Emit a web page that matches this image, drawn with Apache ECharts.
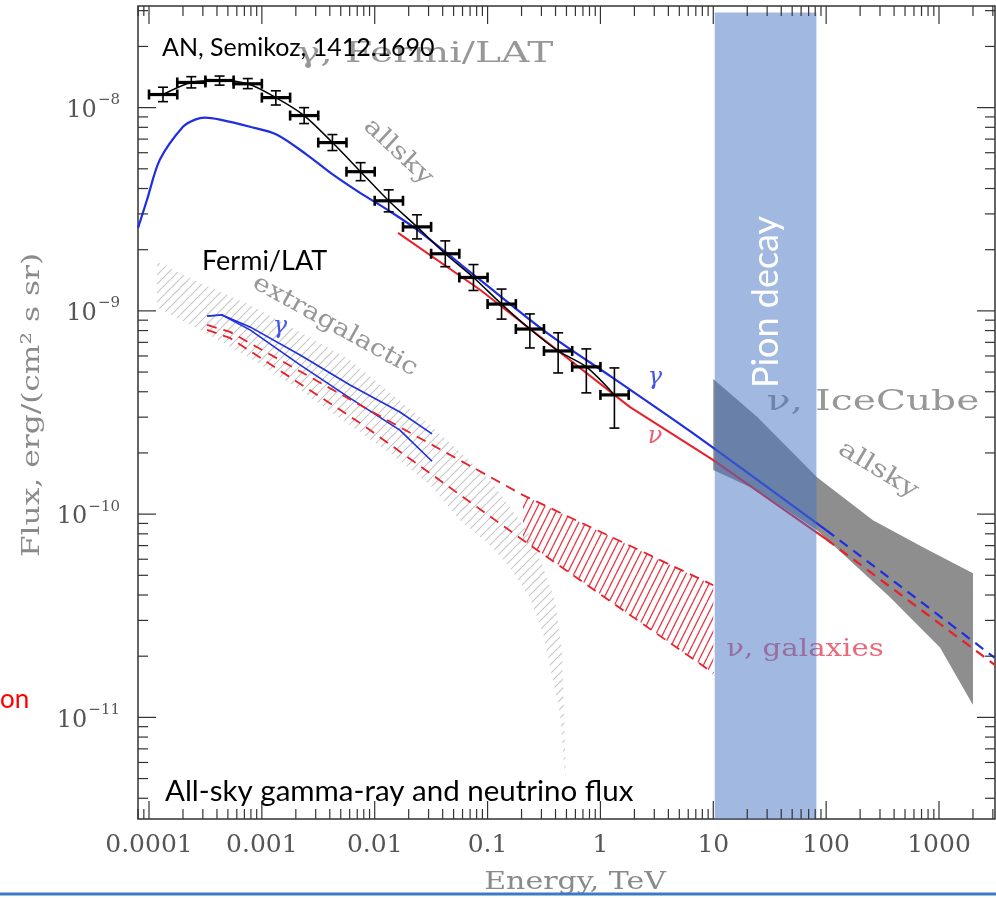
<!DOCTYPE html>
<html>
<head>
<meta charset="utf-8">
<script src="https://cdn.jsdelivr.net/npm/echarts@6/dist/echarts.min.js"></script>
<style>
  html, body { margin: 0; padding: 0; background: #ffffff; }
  #chart { width: 996px; height: 898px; }
</style>
</head>
<body>
<div id="chart"></div>
<script>
// ---------------- data (energy in TeV, flux in erg/(cm^2 s sr)) ----------------

// Fermi/LAT all-sky diffuse gamma-ray points
const fermiEnergy = [1.33e-4, 2.37e-4, 4.22e-4, 7.50e-4, 1.33e-3, 2.37e-3, 4.22e-3, 7.50e-3,
                     1.33e-2, 2.37e-2, 4.22e-2, 7.50e-2, 0.133, 0.237, 0.422, 0.750, 1.33];
const fermiBinEdges = [1.0e-4, 1.78e-4, 3.16e-4, 5.62e-4, 1.0e-3, 1.78e-3, 3.16e-3, 5.62e-3, 1.0e-2,
                       1.78e-2, 3.16e-2, 5.62e-2, 0.1, 0.178, 0.316, 0.562, 1.0, 1.78];
const fermiFlux = [1.16e-8, 1.33e-8, 1.36e-8, 1.31e-8, 1.12e-8, 9.14e-9, 6.73e-9, 4.84e-9,
                   3.48e-9, 2.59e-9, 1.91e-9, 1.46e-9, 1.08e-9, 8.14e-10, 6.35e-10, 5.30e-10, 3.86e-10];
const fermiFluxLow = [1.07e-8, 1.25e-8, 1.29e-8, 1.24e-8, 1.03e-8, 8.35e-9, 6.15e-9, 4.37e-9,
                      3.07e-9, 2.26e-9, 1.65e-9, 1.26e-9, 9.11e-10, 6.57e-10, 4.95e-10, 3.95e-10, 2.65e-10];
const fermiFluxHigh = [1.26e-8, 1.42e-8, 1.43e-8, 1.39e-8, 1.21e-8, 1.00e-8, 7.37e-9, 5.36e-9,
                       3.94e-9, 2.97e-9, 2.21e-9, 1.69e-9, 1.28e-9, 9.66e-10, 7.80e-10, 6.50e-10, 5.24e-10];

// all-sky model: gamma rays (solid up to 100 TeV, dashed beyond)
const gammaAllskyE = [8.0e-5, 8.32e-5, 9.6e-5, 1.25e-4, 2.0e-4, 2.56e-4, 3.13e-4, 4.26e-4, 7.85e-4,
                      1.36e-3, 2.51e-3, 4.27e-3, 7.41e-3, 1.29e-2, 2.37e-2, 8.58e-2, 0.336, 1.29, 6.22, 100];
const gammaAllskyF = [2.56e-9, 2.74e-9, 3.52e-9, 5.55e-9, 8.05e-9, 8.73e-9, 8.93e-9, 8.73e-9, 8.05e-9,
                      7.36e-9, 5.86e-9, 4.68e-9, 3.81e-9, 3.15e-9, 2.51e-9, 1.42e-9, 7.80e-10, 4.68e-10, 2.56e-10, 8.34e-11];
const gammaAllskyExtE = [100, 3100];
const gammaAllskyExtF = [8.34e-11, 1.97e-11];

// all-sky model: neutrinos
const nuAllskyE = [1.61e-2, 8.58e-2, 1.83, 9.93, 100];
const nuAllskyF = [2.42e-9, 1.27e-9, 3.36e-10, 1.85e-10, 7.53e-11];
const nuAllskyExtE = [100, 3100];
const nuAllskyExtF = [7.53e-11, 1.82e-11];

// extragalactic gamma-ray model envelope (two curves)
const egGammaE = [3.27e-4, 4.44e-4, 7.85e-4, 2.18e-3, 6.04e-3, 1.67e-2, 3.22e-2];
const egGammaHigh = [9.44e-10, 9.55e-10, 8.34e-10, 6.07e-10, 4.32e-10, 3.18e-10, 2.48e-10];
const egGammaLow = [9.44e-10, 9.55e-10, 8.06e-10, 5.42e-10, 3.72e-10, 2.59e-10, 1.82e-10];

// neutrinos from galaxies (dashed envelope)
const galNuE = [3.27e-4, 5.22e-4, 7.41e-3, 0.206, 10];
const galNuHigh = [8.53e-10, 7.88e-10, 3.44e-10, 1.24e-10, 4.47e-11];
const galNuLow = [8.06e-10, 7.36e-10, 2.81e-10, 7.45e-11, 1.65e-11];
// hatched part of the galaxy neutrino band
const galBandE = [0.206, 10];
const galBandHigh = [1.24e-10, 4.47e-11];
const galBandLow = [7.45e-11, 1.65e-11];

// Fermi/LAT extragalactic background band
const igrbUpperE = [1.18e-4, 2.83e-4, 7.85e-4, 2.18e-3, 6.04e-3, 1.45e-2, 3.09e-2, 5.70e-2,
                    0.105, 0.158, 0.238, 0.310, 0.396, 0.456, 0.495];
const igrbUpperF = [1.74e-9, 1.37e-9, 1.07e-9, 7.88e-10, 5.74e-10, 3.86e-10, 2.74e-10, 2.02e-10,
                    1.47e-10, 1.08e-10, 7.88e-11, 5.48e-11, 3.77e-11, 2.14e-11, 5.18e-12];
const igrbLowerE = [1.18e-4, 2.83e-4, 7.85e-4, 2.18e-3, 6.04e-3, 1.45e-2, 3.09e-2, 5.70e-2,
                    0.105, 0.158, 0.238, 0.310, 0.380, 0.438, 0.485];
const igrbLowerF = [1.04e-9, 8.06e-10, 5.86e-10, 4.08e-10, 2.74e-10, 1.95e-10, 1.39e-10, 9.33e-11,
                    7.03e-11, 5.48e-11, 3.86e-11, 2.59e-11, 1.52e-11, 1.05e-11, 5.18e-12];

// IceCube all-sky neutrino band
const iceUpperE = [10, 24.4, 83, 260, 721, 2000];
const iceUpperF = [4.62e-10, 3.01e-10, 1.52e-10, 9.33e-11, 6.87e-11, 5.12e-11];
const iceLowerE = [10, 24.4, 83, 368, 1021, 2000];
const iceLowerF = [1.65e-10, 1.31e-10, 8.34e-11, 3.90e-11, 2.21e-11, 1.15e-11];

// pion decay energy window
const pionRangeE = [10.3, 82];
const pionTopF = 2.94e-8;

// tick labels
const xTickLabels = ['0.0001', '0.001', '0.01', '0.1', '1', '10', '100', '1000']; // 10^-4 .. 10^3
const yTickExponents = ['\u221211', '\u221210', '\u22129', '\u22128'];            // 10^-11 .. 10^-8

// ---------------- chart ----------------
const X_MIN = Math.pow(10, -4.0975), X_MAX = Math.pow(10, 3.4962);
const Y_MIN = Math.pow(10, -11.5), Y_MAX = Math.pow(10, -7.5);
const SERIF = 'DejaVu Serif';
const SANS = 'Lato';

function pairs(xs, ys) { return xs.map((x, i) => [x, ys[i]]); }

function hatchPattern(color, w, h, lw, flip) {
  const c = document.createElement('canvas');
  c.width = w; c.height = h;
  const g = c.getContext('2d');
  g.strokeStyle = color; g.lineWidth = lw;
  g.beginPath();
  for (const dx of [-w, 0, w]) {
    if (flip) { g.moveTo(dx, 0); g.lineTo(dx + w, h); }
    else { g.moveTo(dx, h); g.lineTo(dx + w, 0); }
  }
  g.stroke();
  return { image: c, repeat: 'repeat' };
}

function bandSeries(upE, upF, loE, loF, fill, z) {
  return {
    type: 'custom', z: z, silent: true, clip: true,
    data: [[upE[0], upF[0]]],
    renderItem: (params, api) => {
      const pts = [];
      for (let i = 0; i < upE.length; i++) pts.push(api.coord([upE[i], upF[i]]));
      for (let i = loE.length - 1; i >= 0; i--) pts.push(api.coord([loE[i], loF[i]]));
      return { type: 'polygon', shape: { points: pts }, style: { fill: fill, stroke: null } };
    }
  };
}

function lineSeries(xs, ys, color, width, dashed, z, smooth) {
  return {
    type: 'line', z: z || 2, silent: true, showSymbol: false, smooth: smooth || false,
    data: pairs(xs, ys),
    lineStyle: { color: color, width: width, type: dashed ? [10, 7] : 'solid' },
    clip: true
  };
}

// frame ticks (inside, on all four sides)
const xTicks = [], yTicks = [];
for (let d = -5; d <= 3; d++) for (let m = 1; m <= 9; m++) {
  const v = m * Math.pow(10, d);
  if (v > X_MIN && v < X_MAX) xTicks.push([v, 1e-10, m === 1 ? 1 : 0]);
}
for (let d = -12; d <= -8; d++) for (let m = 1; m <= 9; m++) {
  const v = m * Math.pow(10, d);
  if (v > Y_MIN && v < Y_MAX) yTicks.push([1e-2, v, m === 1 ? 1 : 0]);
}
const TICK = '#333';

const chart = echarts.init(document.getElementById('chart'), null, { renderer: 'canvas' });

const BLUE = '#1f2fe0', RED = '#e8202a';

const option = {
  backgroundColor: '#ffffff',
  animation: false,
  grid: { left: 138, top: 6, width: 857, height: 813, show: true, borderColor: '#333', borderWidth: 1.5,
          backgroundColor: 'transparent', outerBoundsMode: 'none', containLabel: false },
  xAxis: {
    type: 'log', min: X_MIN, max: X_MAX,
    axisLine: { show: false }, axisTick: { show: false }, splitLine: { show: false },
    axisLabel: {
      margin: 14, color: '#555', fontFamily: SERIF, fontSize: 25,
      formatter: (v) => {
        const l = Math.log10(v), r = Math.round(l);
        if (Math.abs(l - r) > 1e-3) return '';
        return xTickLabels[r + 4] || '';
      }
    }
  },
  yAxis: {
    type: 'log', min: Y_MIN, max: Y_MAX,
    axisLine: { show: false }, axisTick: { show: false }, splitLine: { show: false },
    axisLabel: {
      margin: 18, color: '#555',
      formatter: (v) => {
        const l = Math.log10(v), r = Math.round(l);
        if (Math.abs(l - r) > 1e-3) return '';
        const e = yTickExponents[r + 11];
        return e ? '{b|10}{s|' + e + '}' : '';
      },
      rich: {
        b: { fontFamily: SERIF, fontSize: 24, color: '#555', lineHeight: 30, verticalAlign: 'bottom' },
        s: { fontFamily: SERIF, fontSize: 15, color: '#555', lineHeight: 30, verticalAlign: 'top', padding: [0, 0, 0, 1] }
      }
    }
  },
  series: [
    // bands
    bandSeries(igrbUpperE, igrbUpperF, igrbLowerE, igrbLowerF, hatchPattern('#c6c6c6', 9, 9, 1.1, false), 1),
    bandSeries(galBandE, galBandHigh, galBandE, galBandLow, hatchPattern('#ea3a48', 7, 14, 1.3, false), 1),
    bandSeries(iceUpperE, iceUpperF, iceLowerE, iceLowerF, '#8e8e8e', 1),

    // extragalactic curves
    lineSeries(egGammaE, egGammaHigh, BLUE, 1.6, false, 2),
    lineSeries(egGammaE, egGammaLow, BLUE, 1.6, false, 2),
    lineSeries(galNuE, galNuHigh, RED, 1.8, true, 2),
    lineSeries(galNuE, galNuLow, RED, 1.8, true, 2),

    // all-sky curves
    lineSeries(nuAllskyE, nuAllskyF, RED, 2, false, 2),
    lineSeries(nuAllskyExtE, nuAllskyExtF, RED, 2.2, true, 2),
    lineSeries(gammaAllskyE, gammaAllskyF, BLUE, 2.2, false, 2, 0.3),
    lineSeries(gammaAllskyExtE, gammaAllskyExtF, BLUE, 2.2, true, 2),
    lineSeries(fermiEnergy, fermiFlux, '#000000', 1.5, false, 3, 0.3),

    // Fermi/LAT points with error bars
    {
      type: 'custom', z: 4, silent: true,
      data: fermiEnergy.map((e, i) => [e, fermiFlux[i], fermiBinEdges[i], fermiBinEdges[i + 1],
                                       fermiFluxLow[i], fermiFluxHigh[i]]),
      encode: { x: 0, y: 1 },
      renderItem: (params, api) => {
        const c = api.coord([api.value(0), api.value(1)]);
        const l = api.coord([api.value(2), api.value(1)]);
        const r = api.coord([api.value(3), api.value(1)]);
        const lo = api.coord([api.value(0), api.value(4)]);
        const hi = api.coord([api.value(0), api.value(5)]);
        const s = (w) => ({ stroke: '#000', lineWidth: w });
        return {
          type: 'group',
          children: [
            { type: 'line', shape: { x1: l[0], y1: c[1], x2: r[0], y2: c[1] }, style: s(3.2) },
            { type: 'line', shape: { x1: l[0], y1: c[1] - 5, x2: l[0], y2: c[1] + 5 }, style: s(2.6) },
            { type: 'line', shape: { x1: r[0], y1: c[1] - 5, x2: r[0], y2: c[1] + 5 }, style: s(2.6) },
            { type: 'line', shape: { x1: c[0], y1: lo[1], x2: c[0], y2: hi[1] }, style: s(1.6) },
            { type: 'line', shape: { x1: c[0] - 5, y1: lo[1], x2: c[0] + 5, y2: lo[1] }, style: s(1.6) },
            { type: 'line', shape: { x1: c[0] - 5, y1: hi[1], x2: c[0] + 5, y2: hi[1] }, style: s(1.6) }
          ]
        };
      }
    },

    // pion decay window (translucent, over everything)
    {
      type: 'custom', z: 8, silent: true,
      data: [[pionRangeE[0], pionTopF, pionRangeE[1]]],
      encode: { x: 0, y: 1 },
      renderItem: (params, api) => {
        const a = api.coord([api.value(0), api.value(1)]);
        const b = api.coord([api.value(2), api.value(1)]);
        const cs = params.coordSys;
        return { type: 'rect', shape: { x: a[0], y: a[1], width: b[0] - a[0], height: cs.y + cs.height - a[1] },
                 style: { fill: 'rgba(68,114,196,0.5)' } };
      }
    },

    // frame ticks
    {
      type: 'custom', z: 9, silent: true, data: xTicks, encode: { x: 0, y: 1 },
      renderItem: (params, api) => {
        const p = api.coord([api.value(0), api.value(1)]);
        const cs = params.coordSys;
        const len = api.value(2) ? 18 : 10;
        const b = cs.y + cs.height;
        return { type: 'group', children: [
          { type: 'line', shape: { x1: p[0], y1: b, x2: p[0], y2: b - len }, style: { stroke: TICK, lineWidth: 1.2 } },
          { type: 'line', shape: { x1: p[0], y1: cs.y, x2: p[0], y2: cs.y + len }, style: { stroke: TICK, lineWidth: 1.2 } }
        ] };
      }
    },
    {
      type: 'custom', z: 9, silent: true, data: yTicks, encode: { x: 0, y: 1 },
      renderItem: (params, api) => {
        const p = api.coord([api.value(0), api.value(1)]);
        const cs = params.coordSys;
        const len = api.value(2) ? 18 : 10;
        const r = cs.x + cs.width;
        return { type: 'group', children: [
          { type: 'line', shape: { x1: cs.x, y1: p[1], x2: cs.x + len, y2: p[1] }, style: { stroke: TICK, lineWidth: 1.2 } },
          { type: 'line', shape: { x1: r, y1: p[1], x2: r - len, y2: p[1] }, style: { stroke: TICK, lineWidth: 1.2 } }
        ] };
      }
    }
  ],
  graphic: [
    // axis titles
    { type: 'text', x: 32, y: 405, rotation: Math.PI / 2, scaleX: 1.25, z: 5,
      style: { text: 'Flux, erg/(cm\u00b2 s sr)', fontFamily: SERIF, fontSize: 25, fill: '#8a8a8a', align: 'center', verticalAlign: 'middle' } },
    { type: 'text', x: 575, y: 882, scaleX: 1.2, z: 5,
      style: { text: 'Energy, TeV', fontFamily: SERIF, fontSize: 25, fill: '#8a8a8a', align: 'center', verticalAlign: 'middle' } },

    // curve annotations
    { type: 'text', x: 425, y: 55, scaleX: 1.4, z: 5,
      style: { text: '\u03b3, Fermi/LAT', fontFamily: SERIF, fontSize: 28, fill: '#979797', align: 'center', verticalAlign: 'middle' } },
    { type: 'text', x: 398, y: 152, rotation: -43 * Math.PI / 180, scaleX: 1.22, z: 5,
      style: { text: 'allsky', fontFamily: SERIF, fontSize: 24, fill: '#979797', align: 'center', verticalAlign: 'middle' } },
    { type: 'text', x: 335, y: 326, rotation: -29 * Math.PI / 180, scaleX: 1.16, z: 5,
      style: { text: 'extragalactic', fontFamily: SERIF, fontSize: 24, fill: '#979797', align: 'center', verticalAlign: 'middle' } },
    { type: 'text', x: 280, y: 327, z: 5,
      style: { text: '\u03b3', fontFamily: SERIF, fontStyle: 'italic', fontSize: 24, fill: '#4355e6', align: 'center', verticalAlign: 'middle' } },
    { type: 'text', x: 655, y: 378, z: 5,
      style: { text: '\u03b3', fontFamily: SERIF, fontStyle: 'italic', fontSize: 24, fill: '#4355e6', align: 'center', verticalAlign: 'middle' } },
    { type: 'text', x: 655, y: 437, z: 5,
      style: { text: '\u03bd', fontFamily: SERIF, fontStyle: 'italic', fontSize: 24, fill: '#e8607a', align: 'center', verticalAlign: 'middle' } },
    { type: 'text', x: 873, y: 403, scaleX: 1.45, z: 5,
      style: { text: '\u03bd, IceCube', fontFamily: SERIF, fontSize: 27, fill: '#979797', align: 'center', verticalAlign: 'middle' } },
    { type: 'text', x: 878, y: 470, rotation: -31 * Math.PI / 180, scaleX: 1.27, z: 5,
      style: { text: 'allsky', fontFamily: SERIF, fontSize: 24, fill: '#979797', align: 'center', verticalAlign: 'middle' } },
    { type: 'text', x: 805, y: 650, scaleX: 1.22, z: 5,
      style: { text: '\u03bd, galaxies', fontFamily: SERIF, fontSize: 24, fill: '#e86a7c', align: 'center', verticalAlign: 'middle' } },

    // slide captions
    { type: 'text', x: 162, y: 48, z: 6,
      style: { text: 'AN, Semikoz, 1412.1690', fontFamily: SANS, fontSize: 25, fill: '#000', align: 'left', verticalAlign: 'middle' } },
    { type: 'text', x: 202, y: 261, z: 6,
      style: { text: 'Fermi/LAT', fontFamily: SANS, fontSize: 27, fill: '#000', align: 'left', verticalAlign: 'middle' } },
    { type: 'text', x: 165, y: 791, z: 6,
      style: { text: 'All-sky gamma-ray and neutrino flux', fontFamily: SANS, fontSize: 29.5, fill: '#000', align: 'left', verticalAlign: 'middle' } },
    { type: 'text', x: 0, y: 700, z: 6,
      style: { text: 'on', fontFamily: SANS, fontSize: 26, fill: '#ff0000', align: 'left', verticalAlign: 'middle' } },
    { type: 'text', x: 766, y: 302, rotation: Math.PI / 2, z: 20,
      style: { text: 'Pion decay', fontFamily: SANS, fontSize: 36, fill: '#ffffff', align: 'center', verticalAlign: 'middle' } },

    // slide separator
    { type: 'line', z: 6, shape: { x1: 0, y1: 894, x2: 996, y2: 894 }, style: { stroke: '#3a7cc4', lineWidth: 3 } }
  ]
};

chart.setOption(option);
</script>
</body>
</html>
